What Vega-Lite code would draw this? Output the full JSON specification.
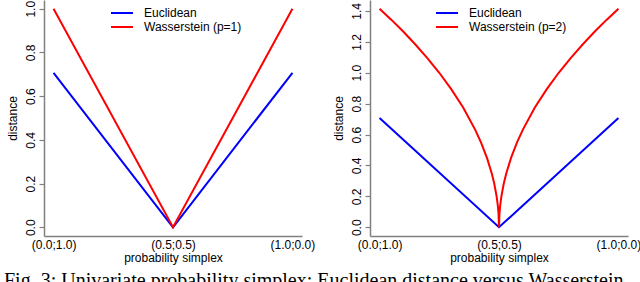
{
  "$schema": "https://vega.github.io/schema/vega-lite/v6.json",
  "padding": {"left": 4, "top": 0, "right": 0, "bottom": 0},
  "background": "white",
  "spacing": 17,
  "title": {"text": "Fig. 3: Univariate probability simplex: Euclidean distance versus Wasserstein", "orient": "bottom", "anchor": "start", "font": "Liberation Serif", "fontSize": 20, "fontWeight": "normal", "color": "black", "offset": 8, "dx": -2},
  "config": {
    "font": "Liberation Sans",
    "view": {"stroke": null},
    "axis": {"grid": false, "domainColor": "#808080", "domainWidth": 1.5, "tickColor": "#808080", "tickWidth": 1.2, "labelColor": "black", "labelFont": "Liberation Sans", "labelFontSize": 12, "titleFont": "Liberation Sans", "titleFontSize": 12, "titleFontWeight": "normal", "titleColor": "black"},
    "legend": {"labelFont": "Liberation Sans", "labelFontSize": 12, "labelColor": "black", "padding": 0}
  },
  "resolve": {"scale": {"color": "independent"}, "legend": {"color": "independent"}},
  "hconcat": [
    {
      "width": 258,
      "height": 236,
      "data": {"values": [
        {"x": 0, "d": 0.707, "series": "Euclidean"},
        {"x": 0.5, "d": 0, "series": "Euclidean"},
        {"x": 1, "d": 0.707, "series": "Euclidean"},
        {"x": 0, "d": 1.0, "series": "Wasserstein (p=1)"},
        {"x": 0.5, "d": 0, "series": "Wasserstein (p=1)"},
        {"x": 1, "d": 1.0, "series": "Wasserstein (p=1)"}
      ]},
      "mark": {"type": "line", "strokeWidth": 2},
      "encoding": {
        "x": {"field": "x", "type": "quantitative", "scale": {"domain": [-0.04, 1.04], "nice": false, "zero": false},
              "axis": {"values": [0, 0.5, 1], "ticks": false, "labelPadding": 3, "labelFlush": false, "labelOverlap": false, "labelBound": false, "title": "probability simplex", "titlePadding": 2,
                       "labelExpr": "datum.value == 0 ? '(0.0;1.0)' : datum.value == 0.5 ? '(0.5;0.5)' : '(1.0;0.0)'"}},
        "y": {"field": "d", "type": "quantitative", "scale": {"domain": [-0.04, 1.04], "nice": false, "zero": false},
              "axis": {"values": [0, 0.2, 0.4, 0.6, 0.8, 1.0], "format": ".1f", "tickSize": 5, "labelAngle": -90, "labelAlign": "center", "labelBaseline": "bottom", "labelPadding": 2, "labelFlush": false, "labelOverlap": false, "title": "distance", "titlePadding": 5}},
        "color": {"field": "series", "type": "nominal",
                  "scale": {"domain": ["Euclidean", "Wasserstein (p=1)"], "range": ["#0000ff", "#ff0000"]},
                  "legend": {"title": null, "orient": "none", "legendX": 66, "legendY": 7, "symbolType": "stroke", "symbolSize": 484, "symbolStrokeWidth": 2, "labelOffset": 10, "clipHeight": 12, "rowPadding": 2}}
      }
    },
    {
      "width": 258,
      "height": 236,
      "data": {"values": [
        {"x": 0, "d": 0.707, "series": "Euclidean"},
        {"x": 0.5, "d": 0, "series": "Euclidean"},
        {"x": 1, "d": 0.707, "series": "Euclidean"},
        {"x": 0, "d": 1.414, "series": "Wasserstein (p=2)"},
        {"x": 0.05, "d": 1.342, "series": "Wasserstein (p=2)"},
        {"x": 0.1, "d": 1.265, "series": "Wasserstein (p=2)"},
        {"x": 0.15, "d": 1.183, "series": "Wasserstein (p=2)"},
        {"x": 0.2, "d": 1.095, "series": "Wasserstein (p=2)"},
        {"x": 0.25, "d": 1.0, "series": "Wasserstein (p=2)"},
        {"x": 0.3, "d": 0.894, "series": "Wasserstein (p=2)"},
        {"x": 0.35, "d": 0.775, "series": "Wasserstein (p=2)"},
        {"x": 0.4, "d": 0.632, "series": "Wasserstein (p=2)"},
        {"x": 0.425, "d": 0.548, "series": "Wasserstein (p=2)"},
        {"x": 0.45, "d": 0.447, "series": "Wasserstein (p=2)"},
        {"x": 0.47, "d": 0.346, "series": "Wasserstein (p=2)"},
        {"x": 0.48, "d": 0.283, "series": "Wasserstein (p=2)"},
        {"x": 0.49, "d": 0.2, "series": "Wasserstein (p=2)"},
        {"x": 0.495, "d": 0.141, "series": "Wasserstein (p=2)"},
        {"x": 0.498, "d": 0.089, "series": "Wasserstein (p=2)"},
        {"x": 0.5, "d": 0, "series": "Wasserstein (p=2)"},
        {"x": 0.502, "d": 0.089, "series": "Wasserstein (p=2)"},
        {"x": 0.505, "d": 0.141, "series": "Wasserstein (p=2)"},
        {"x": 0.51, "d": 0.2, "series": "Wasserstein (p=2)"},
        {"x": 0.52, "d": 0.283, "series": "Wasserstein (p=2)"},
        {"x": 0.53, "d": 0.346, "series": "Wasserstein (p=2)"},
        {"x": 0.55, "d": 0.447, "series": "Wasserstein (p=2)"},
        {"x": 0.575, "d": 0.548, "series": "Wasserstein (p=2)"},
        {"x": 0.6, "d": 0.632, "series": "Wasserstein (p=2)"},
        {"x": 0.65, "d": 0.775, "series": "Wasserstein (p=2)"},
        {"x": 0.7, "d": 0.894, "series": "Wasserstein (p=2)"},
        {"x": 0.75, "d": 1.0, "series": "Wasserstein (p=2)"},
        {"x": 0.8, "d": 1.095, "series": "Wasserstein (p=2)"},
        {"x": 0.85, "d": 1.183, "series": "Wasserstein (p=2)"},
        {"x": 0.9, "d": 1.265, "series": "Wasserstein (p=2)"},
        {"x": 0.95, "d": 1.342, "series": "Wasserstein (p=2)"},
        {"x": 1, "d": 1.414, "series": "Wasserstein (p=2)"}
      ]},
      "mark": {"type": "line", "strokeWidth": 2},
      "encoding": {
        "x": {"field": "x", "type": "quantitative", "scale": {"domain": [-0.04, 1.04], "nice": false, "zero": false},
              "axis": {"values": [0, 0.5, 1], "ticks": false, "labelPadding": 3, "labelFlush": false, "labelOverlap": false, "labelBound": false, "title": "probability simplex", "titlePadding": 2,
                       "labelExpr": "datum.value == 0 ? '(0.0;1.0)' : datum.value == 0.5 ? '(0.5;0.5)' : '(1.0;0.0)'"}},
        "y": {"field": "d", "type": "quantitative", "scale": {"domain": [-0.0566, 1.4708], "nice": false, "zero": false},
              "axis": {"values": [0, 0.2, 0.4, 0.6, 0.8, 1.0, 1.2, 1.4], "format": ".1f", "tickSize": 5, "labelAngle": -90, "labelAlign": "center", "labelBaseline": "bottom", "labelPadding": 2, "labelFlush": false, "labelOverlap": false, "title": "distance", "titlePadding": 5}},
        "color": {"field": "series", "type": "nominal",
                  "scale": {"domain": ["Euclidean", "Wasserstein (p=2)"], "range": ["#0000ff", "#ff0000"]},
                  "legend": {"title": null, "orient": "none", "legendX": 65, "legendY": 7, "symbolType": "stroke", "symbolSize": 484, "symbolStrokeWidth": 2, "labelOffset": 10, "clipHeight": 12, "rowPadding": 2}}
      }
    }
  ]
}
